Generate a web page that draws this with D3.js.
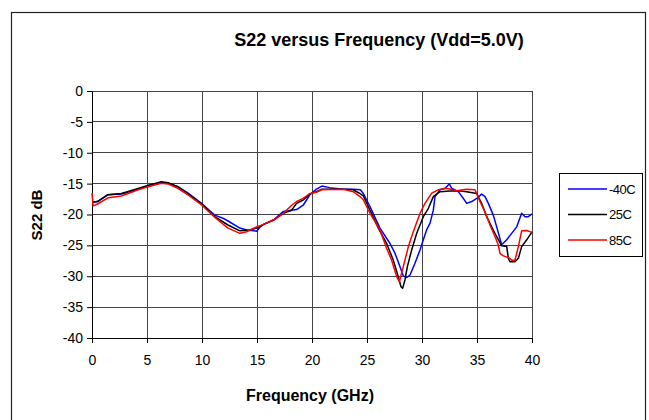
<!DOCTYPE html>
<html>
<head>
<meta charset="utf-8">
<script src="https://d3js.org/d3.v7.min.js"></script>
<style>
  body { margin: 0; background: #fff; }
  text { font-family: "Liberation Sans", Arial, sans-serif; }
</style>
</head>
<body>
<div id="container"></div>
<script>
var width = 649;
var height = 420;

// -40C, 25C, 85C : [GHz, dB]
var curveM40 = [[0,-18.0],[0.5,-17.9],[1.45,-16.8],[2.67,-16.7],[4.2,-15.9],[5.1,-15.3],[6.3,-14.8],[6.9,-14.9],[7.8,-15.5],[8.7,-16.5],[9.9,-18.1],[11.15,-20.1],[11.9,-20.6],[12.36,-21.05],[13.45,-22.2],[14.06,-22.5],[14.97,-22.7],[15.3,-22.0],[15.6,-21.6],[16.5,-20.9],[17.4,-19.5],[18.15,-19.3],[18.6,-19.2],[19.2,-18.5],[19.8,-16.8],[20.4,-15.9],[20.9,-15.4],[21.6,-15.65],[22.85,-15.9],[23.75,-15.9],[24.4,-16.0],[24.67,-16.6],[25.27,-18.7],[26.18,-22.2],[27.09,-24.7],[27.55,-26.3],[28.0,-28.45],[28.3,-29.95],[28.61,-30.2],[28.91,-29.8],[29.36,-27.9],[29.82,-25.75],[30.12,-24.1],[30.42,-22.5],[30.73,-21.4],[31.03,-19.3],[31.18,-17.1],[31.64,-16.0],[32.09,-15.75],[32.48,-15.05],[32.7,-15.75],[33.3,-16.3],[33.76,-17.4],[34.06,-18.2],[34.52,-17.9],[34.97,-17.4],[35.42,-16.7],[35.73,-17.1],[36.03,-18.2],[36.48,-20.1],[36.79,-22.0],[37.24,-24.9],[37.7,-24.1],[38.15,-23.05],[38.61,-22.0],[39.06,-19.8],[39.36,-20.35],[39.67,-20.35],[40,-19.9]];

var curve25 = [[0,-18.0],[0.5,-17.9],[1.45,-16.8],[2.67,-16.6],[4.2,-15.8],[5.1,-15.3],[6.3,-14.7],[6.9,-14.85],[7.8,-15.5],[8.7,-16.6],[9.9,-18.2],[11.15,-20.35],[12.36,-21.7],[13.45,-22.65],[14.36,-22.5],[14.97,-22.2],[15.6,-21.6],[16.5,-20.9],[17.4,-19.8],[18.15,-19.3],[18.6,-18.2],[19.2,-17.65],[19.8,-16.7],[20.4,-16.3],[20.9,-15.9],[21.6,-15.9],[22.85,-15.9],[23.75,-16.0],[24.36,-16.6],[24.67,-17.0],[25.27,-19.3],[26.03,-22.2],[26.79,-24.7],[27.39,-27.4],[27.85,-30.1],[28.09,-31.7],[28.24,-31.95],[28.45,-30.6],[28.67,-28.45],[29.06,-25.75],[29.52,-23.05],[30.12,-20.35],[30.58,-19.0],[31.03,-17.1],[31.64,-16.3],[32.55,-16.2],[33.3,-16.15],[34.06,-16.3],[34.97,-16.6],[35.42,-18.2],[35.88,-20.35],[36.33,-22.0],[36.79,-23.6],[37.24,-25.05],[37.7,-25.2],[37.85,-27.1],[38.0,-27.65],[38.45,-27.65],[38.76,-27.1],[39.06,-25.2],[39.52,-24.1],[40,-22.8]];

var curve85 = [[0,-16.5],[0.1,-18.6],[0.5,-18.3],[1.45,-17.3],[2.67,-17.0],[4.2,-16.0],[5.1,-15.5],[6.3,-14.95],[6.9,-15.05],[7.8,-15.75],[8.7,-16.8],[9.9,-18.35],[11.15,-20.45],[12.36,-22.2],[13.45,-23.05],[14.06,-22.8],[14.97,-22.0],[15.6,-21.6],[16.5,-20.9],[17.4,-19.8],[18.15,-18.5],[18.6,-17.9],[19.2,-17.4],[19.8,-16.6],[20.4,-16.4],[20.9,-16.0],[21.6,-15.95],[22.85,-15.9],[23.75,-16.3],[24.36,-17.1],[24.67,-17.65],[25.27,-19.8],[26.18,-22.5],[26.79,-25.5],[27.24,-27.4],[27.7,-30.05],[27.94,-30.9],[28.3,-28.45],[28.76,-25.2],[29.21,-22.8],[29.82,-19.8],[30.27,-18.2],[30.88,-16.55],[31.48,-16.0],[32.24,-15.75],[33.15,-16.15],[34.06,-15.9],[34.82,-16.0],[35.27,-17.9],[35.73,-19.55],[36.18,-21.7],[36.64,-23.6],[36.94,-24.95],[37.09,-26.3],[37.39,-26.7],[37.85,-26.95],[38.15,-27.4],[38.45,-27.4],[38.76,-25.2],[39.06,-22.65],[39.52,-22.6],[40,-22.9]];

var seriesNames = ["-40C", "25C", "85C"];
var seriesColors = ["#0000ff", "#000000", "#ff0000"];
var xTicks = [0, 5, 10, 15, 20, 25, 30, 35, 40];
var yTicks = [0, -5, -10, -15, -20, -25, -30, -35, -40];

var x = d3.scaleLinear().domain([0, 40]).range([92, 532]);
var y = d3.scaleLinear().domain([0, -40]).range([91, 338]);

var svg = d3.select("#container")
  .append("svg")
  .attr("width", width)
  .attr("height", height);

// outer frame (bottom edge runs off the picture)
svg.append("rect")
  .attr("x", 11.5).attr("y", 12.5)
  .attr("width", 634).attr("height", 410)
  .attr("fill", "#fff")
  .attr("stroke", "#222")
  .attr("stroke-width", 1.2);

// grid
var grid = svg.append("g").attr("shape-rendering", "crispEdges");
grid.selectAll(".hg")
  .data(yTicks)
  .enter().append("line")
  .attr("x1", x(0)).attr("x2", x(40))
  .attr("y1", function(d) { return y(d); })
  .attr("y2", function(d) { return y(d); })
  .attr("stroke", "#444");
grid.selectAll(".vg")
  .data(xTicks)
  .enter().append("line")
  .attr("y1", y(0)).attr("y2", y(-40))
  .attr("x1", function(d) { return x(d); })
  .attr("x2", function(d) { return x(d); })
  .attr("stroke", "#444");

// axes
var xAxis = d3.axisBottom(x).tickValues(xTicks).tickSize(5).tickPadding(12);
var yAxis = d3.axisLeft(y).tickValues(yTicks).tickSize(5).tickPadding(4)
  .tickFormat(function(d) { return d < 0 ? "-" + Math.abs(d) : d; });

function styleAxis(g) {
  g.select(".domain").attr("stroke", "#000");
  g.selectAll("line").attr("stroke", "#000");
  g.selectAll("text").attr("font-size", "14px").attr("fill", "#000")
    .attr("font-family", "Liberation Sans, Arial, sans-serif");
}

svg.append("g")
  .attr("transform", "translate(0," + y(-40) + ")")
  .call(xAxis)
  .call(styleAxis);

svg.append("g")
  .attr("transform", "translate(" + x(0) + ",0)")
  .call(yAxis)
  .call(styleAxis);

// curves
var line = d3.line()
  .x(function(d) { return x(d[0]); })
  .y(function(d) { return y(d[1]); });

var curves = [curveM40, curve25, curve85];
svg.append("g")
  .selectAll("path")
  .data(curves)
  .enter().append("path")
  .attr("d", line)
  .attr("fill", "none")
  .attr("stroke", function(d, i) { return seriesColors[i]; })
  .attr("stroke-width", 1.5)
  .attr("stroke-linejoin", "round");

// titles
svg.append("text")
  .attr("x", 379).attr("y", 46)
  .attr("text-anchor", "middle")
  .attr("font-size", "18px")
  .attr("font-weight", "bold")
  .text("S22 versus Frequency (Vdd=5.0V)");

svg.append("text")
  .attr("x", 310).attr("y", 401)
  .attr("text-anchor", "middle")
  .attr("font-size", "16px")
  .attr("font-weight", "bold")
  .text("Frequency (GHz)");

svg.append("text")
  .attr("transform", "translate(42,215)rotate(-90)")
  .attr("text-anchor", "middle")
  .attr("font-size", "15px")
  .attr("font-weight", "bold")
  .text("S22 dB");

// legend
var legend = svg.append("g");
legend.append("rect")
  .attr("x", 559.5).attr("y", 173.5)
  .attr("width", 83).attr("height", 83)
  .attr("fill", "#fff")
  .attr("stroke", "#000");

var items = legend.selectAll(".item")
  .data(seriesNames)
  .enter().append("g")
  .attr("transform", function(d, i) { return "translate(0," + (189 + i * 25.5) + ")"; });
items.append("line")
  .attr("x1", 568).attr("x2", 607)
  .attr("stroke", function(d, i) { return seriesColors[i]; })
  .attr("stroke-width", 1.5);
items.append("text")
  .attr("x", 609).attr("y", 4.5)
  .attr("font-size", "13px")
  .attr("letter-spacing", "-0.5px")
  .text(function(d) { return d; });
</script>
</body>
</html>
